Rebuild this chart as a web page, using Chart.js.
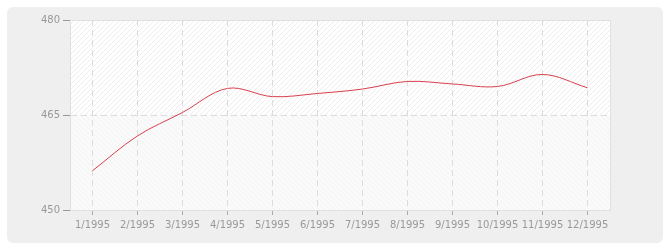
<!DOCTYPE html>
<html>
<head>
<meta charset="utf-8">
<script src="https://cdn.jsdelivr.net/npm/chart.js@4/dist/chart.umd.min.js"></script>
<style>
  html, body { margin: 0; padding: 0; background: #fff; }
</style>
</head>
<body>
<canvas id="chart" width="670" height="250"></canvas>
<script>
// data
const months = ['1/1995', '2/1995', '3/1995', '4/1995', '5/1995', '6/1995',
                '7/1995', '8/1995', '9/1995', '10/1995', '11/1995', '12/1995'];
const values = [456.2, 461.7, 465.4, 469.2, 467.9, 468.4, 469.1, 470.3, 469.9, 469.5, 471.4, 469.3];
const yTicks = [450, 465, 480];

// hatch patterns for the plot area
function hatch(bg, line, dir) {
    const c = document.createElement('canvas');
    c.width = 5; c.height = 5;
    const g = c.getContext('2d');
    g.fillStyle = bg;
    g.fillRect(0, 0, 5, 5);
    g.strokeStyle = line;
    g.lineWidth = 1;
    g.beginPath();
    if (dir > 0) {
        g.moveTo(-1, 6); g.lineTo(6, -1);
        g.moveTo(-3, 3); g.lineTo(3, -3);
        g.moveTo(2, 8); g.lineTo(8, 2);
    } else {
        g.moveTo(-1, -1); g.lineTo(6, 6);
        g.moveTo(-3, 2); g.lineTo(3, 8);
        g.moveTo(2, -3); g.lineTo(8, 3);
    }
    g.stroke();
    return g.createPattern(c, 'repeat');
}

const backdrop = {
    id: 'backdrop',
    beforeDraw(chart) {
        const ctx = chart.ctx;
        const a = chart.chartArea;
        ctx.save();
        // grey rounded panel
        ctx.fillStyle = '#efefef';
        ctx.beginPath();
        ctx.roundRect(7, 7, 656, 236, 6);
        ctx.fill();
        // two bands of the plot area
        const mid = chart.scales.y.getPixelForValue(yTicks[1]);
        ctx.fillStyle = hatch('#ffffff', '#ededed', 1);
        ctx.fillRect(a.left, a.top, a.right - a.left, mid - a.top);
        ctx.fillStyle = hatch('#fafafa', '#f3f3f3', -1);
        ctx.fillRect(a.left, mid, a.right - a.left, a.bottom - mid);
        ctx.restore();
    },
    beforeDatasetsDraw(chart) {
        const ctx = chart.ctx;
        const a = chart.chartArea;
        ctx.save();
        ctx.strokeStyle = '#e0e0e0';
        ctx.lineWidth = 1;
        ctx.beginPath();
        ctx.moveTo(a.left, a.top + 0.5);
        ctx.lineTo(a.right + 0.5, a.top + 0.5);
        ctx.lineTo(a.right + 0.5, a.bottom);
        ctx.stroke();
        ctx.restore();
    }
};

const font = { family: 'DejaVu Sans', size: 10 };

new Chart(document.getElementById('chart'), {
    type: 'line',
    data: {
        labels: months,
        datasets: [{
            data: values,
            borderColor: '#d9404f',
            borderWidth: 1,
            pointRadius: 0,
            tension: 0.35,
            fill: false
        }]
    },
    options: {
        responsive: false,
        animation: false,
        layout: { padding: { top: 20, right: 60, left: 0, bottom: 0 } },
        plugins: { legend: { display: false }, tooltip: { enabled: false } },
        scales: {
            x: {
                offset: true,
                afterFit: s => { s.height = 40; },
                grid: { offset: false, color: '#dcdcdc', tickColor: '#aaaaaa', tickLength: 5 },
                border: { display: true, color: '#e0e0e0', dash: [6, 4] },
                ticks: { color: '#999999', font, padding: 4, maxRotation: 0, autoSkip: false }
            },
            y: {
                min: 450,
                max: 480,
                afterFit: s => { s.width = 70; },
                afterBuildTicks: s => { s.ticks = yTicks.map(v => ({ value: v })); },
                grid: { color: '#dcdcdc', tickColor: '#999999', tickLength: 7 },
                border: { display: true, color: '#e0e0e0', dash: [6, 4] },
                ticks: { color: '#999999', font, padding: 3 }
            }
        }
    },
    plugins: [backdrop]
});
</script>
</body>
</html>
